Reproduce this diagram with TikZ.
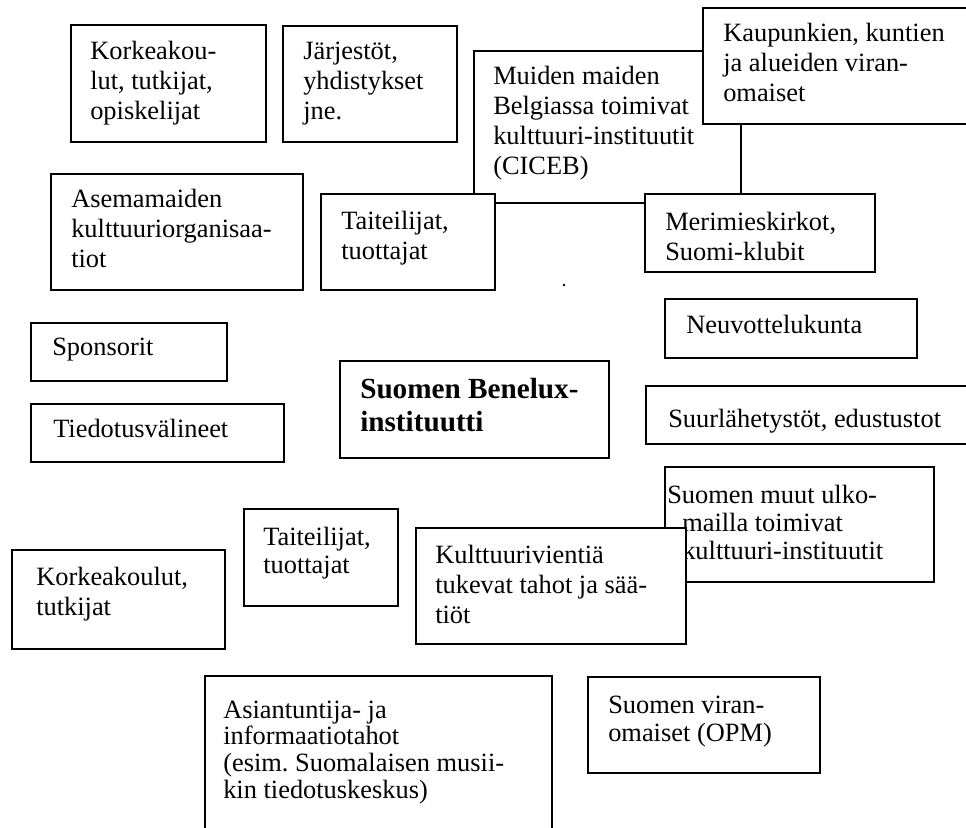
\documentclass[tikz,border=0pt]{standalone}
\usepackage{fontspec}
\setmainfont{Liberation Serif}
\frenchspacing
\usetikzlibrary{positioning}
\tikzset{box/.style={draw,line width=1.7pt,fill=white,inner sep=0pt,anchor=north west},
  txt/.style={anchor=base west,inner sep=0pt}}
\newcommand{\lines}[1]{\begin{tabular}[t]{@{}l@{}}#1\end{tabular}}
% name, left, top, right, bottom, text pad, baseline, line skip, text
\newcommand{\orgbox}[9]{\node[box,minimum width={(#4-#2)*0.75pt},minimum height={(#5-#3)*0.75pt}] (#1) at (#2,#3) {};
  \node[txt,font=\fontsize{19.8}{#8}\selectfont] (#1txt) at ([shift={(#6,#7)}]#1.north west) {\lines{#9}};}

\begin{document}
\begin{tikzpicture}[x=0.75pt,y=-0.75pt]
\useasboundingbox (0,0) rectangle (966,827);
% top row
\orgbox{korkA}{70}{24}{265}{141}{20}{36}{22.5}{Korkeakou-\\lut, tutkijat,\\opiskelijat}
\orgbox{jarj}{282}{25}{456}{141}{21}{35}{22.5}{Järjestöt,\\yhdistykset\\jne.}
\orgbox{ciceb}{473}{50}{740}{202}{20}{35}{22.5}{Muiden maiden\\Belgiassa toimivat\\kulttuuri-instituutit\\(CICEB)}
\orgbox{kaup}{702}{7}{980}{123}{21}{35}{22.5}{Kaupunkien, kuntien\\ja alueiden viran-\\omaiset}
\orgbox{asema}{50}{173}{302}{289}{21}{35}{22.5}{Asemamaiden\\kulttuuriorganisaa-\\tiot}
\orgbox{taitA}{320}{193}{494}{289}{21}{36}{22.5}{Taiteilijat,\\tuottajat}
\orgbox{meri}{644}{193}{874}{271}{21}{37}{22.5}{Merimieskirkot,\\Suomi-klubit}
\fill (564,285) circle (1pt);
% middle
\orgbox{neuvo}{664}{298}{916}{357}{22}{35}{22.5}{Neuvottelukunta}
\orgbox{spons}{30}{322}{226}{380}{22}{33}{22.5}{Sponsorit}
\orgbox{tiedo}{30}{403}{283}{461}{23}{34}{22.5}{Tiedotusvälineet}
\node[box,minimum width={269*0.75pt},minimum height={97*0.75pt}] (benelux) at (339,360) {};
\node[txt,font=\fontsize{21.9}{25}\selectfont\bfseries] (beneluxtxt) at ([shift={(21,38)}]benelux.north west) {\lines{Suomen Benelux-\\instituutti}};
\orgbox{suurl}{645}{385}{980}{443}{23}{42}{22.5}{Suurlähetystöt, edustustot}
% lower part
\orgbox{muut}{664}{466}{933}{581}{18}{65}{21}{mailla toimivat\\kulttuuri-instituutit}
\node[txt,font=\fontsize{19.8}{21}\selectfont] (muuttop) at ([shift={(3,37)}]muut.north west) {Suomen muut ulko-};
\orgbox{taitB}{243}{508}{397}{605}{20}{37}{21}{Taiteilijat,\\tuottajat}
\orgbox{kult}{415}{527}{685}{643}{20}{36}{22.5}{Kulttuurivientiä\\tukevat tahot ja sää-\\tiöt}
\orgbox{korkB}{11}{549}{224}{648}{25}{36}{22.5}{Korkeakoulut,\\tutkijat}
\orgbox{asian}{204}{675}{551}{832}{19}{43}{20.2}{Asiantuntija- ja\\informaatiotahot\\(esim. Suomalaisen musii-\\kin tiedotuskeskus)}
\orgbox{viran}{587}{676}{819}{772}{21}{37}{21.5}{Suomen viran-\\omaiset (OPM)}
\end{tikzpicture}
\end{document}
